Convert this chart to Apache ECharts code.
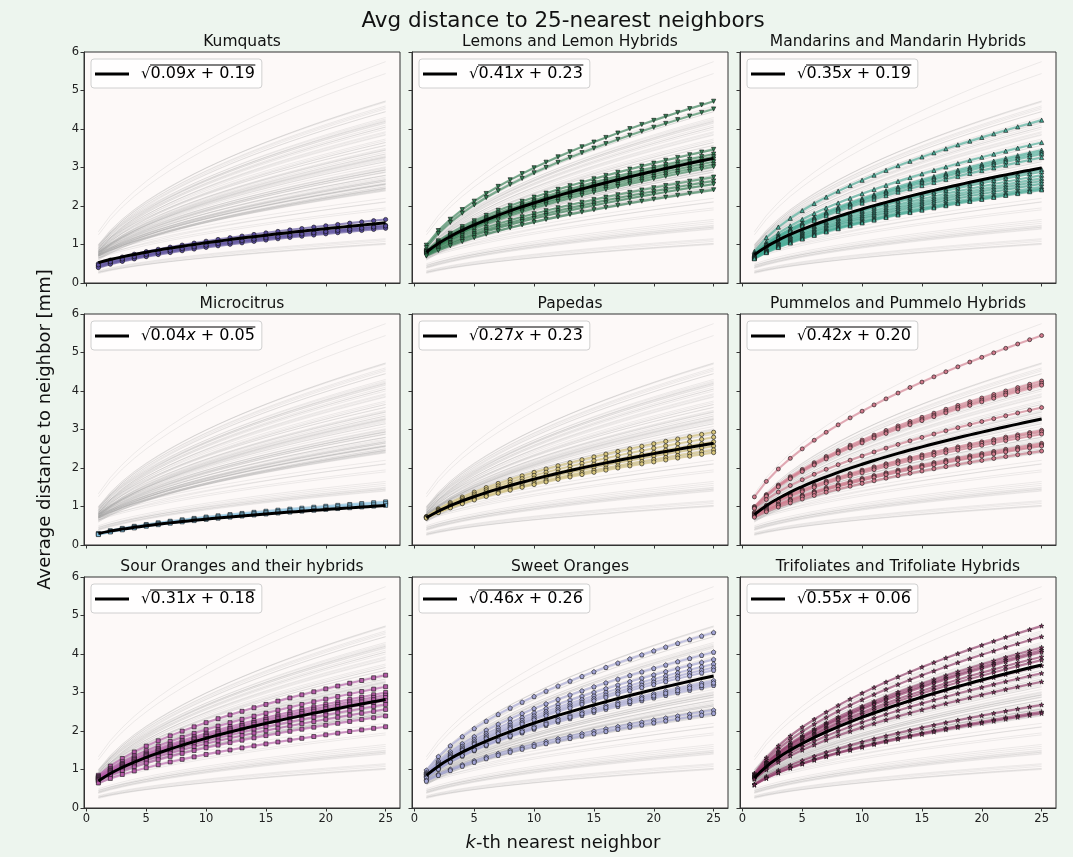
<!DOCTYPE html>
<html><head><meta charset="utf-8">
<script src="https://cdn.jsdelivr.net/npm/echarts@6/dist/echarts.min.js"></script>
<style>html,body{margin:0;padding:0;background:#edf5ee;}#c{width:1073px;height:857px;}</style>
</head><body><div id="c"></div>
<script>
// ---------- data ----------
const kValues = [1,2,3,4,5,6,7,8,9,10,11,12,13,14,15,16,17,18,19,20,21,22,23,24,25];
const xTickValues = [0,5,10,15,20,25];
const panelTitles = ['Kumquats','Lemons and Lemon Hybrids','Mandarins and Mandarin Hybrids','Microcitrus','Papedas','Pummelos and Pummelo Hybrids','Sour Oranges and their hybrids','Sweet Oranges','Trifoliates and Trifoliate Hybrids'];
const fitA = [0.09,0.41,0.35,0.04,0.27,0.42,0.31,0.46,0.55];
const fitB = [0.19,0.23,0.19,0.05,0.23,0.20,0.18,0.26,0.06];

// value at k=1 and k=25 of each sample curve (mm)
const kumquatStart = [0.50,0.45,0.42,0.40,0.47];
const kumquatEnd   = [1.65,1.50,1.45,1.42,1.48];
const lemonStart = [0.98,0.92,0.85,0.82,0.80,0.78,0.76,0.80,0.74,0.80,0.75,0.72,0.70];
const lemonEnd   = [4.72,4.52,3.47,3.35,3.28,3.22,3.15,3.08,3.02,2.75,2.65,2.57,2.42];
const mandarinStart = [0.82,0.78,0.75,0.75,0.72,0.72,0.70,0.70,0.68,0.68,0.66,0.66,0.65,0.64,0.63];
const mandarinEnd   = [4.23,3.65,3.45,3.40,3.35,3.26,2.95,2.89,2.80,2.72,2.65,2.58,2.50,2.45,2.42];
const microcitrusStart = [0.30,0.28,0.27];
const microcitrusEnd   = [1.12,1.08,1.03];
const papedaStart = [0.74,0.73,0.72,0.72,0.70,0.70];
const papedaEnd   = [2.93,2.80,2.68,2.57,2.47,2.40];
const pummeloStart = [1.25,1.00,0.98,0.96,0.95,0.85,0.82,0.80,0.78,0.76,0.74,0.72];
const pummeloEnd   = [5.44,4.26,4.20,4.15,3.57,2.98,2.94,2.88,2.64,2.60,2.57,2.44];
const sourStart = [0.85,0.82,0.80,0.78,0.77,0.75,0.74,0.72,0.70,0.65];
const sourEnd   = [3.45,3.15,3.00,2.93,2.87,2.79,2.69,2.56,2.39,2.11];
const sweetStart = [0.98,0.92,0.90,0.88,0.86,0.85,0.82,0.80,0.78,0.72,0.70];
const sweetEnd   = [4.56,4.05,3.86,3.74,3.65,3.58,3.31,3.19,3.25,2.54,2.46];
const trifoliateStart = [0.90,0.88,0.85,0.84,0.82,0.80,0.80,0.78,0.76,0.75,0.62,0.60,0.60];
const trifoliateEnd   = [4.73,4.45,4.17,4.10,4.05,3.93,3.84,3.70,3.50,3.28,2.68,2.50,2.46];
// other samples only seen in the grey background
const otherStart = [1.33,1.00,0.95,0.95,0.90,0.90,0.88,0.85,0.80,0.75,0.70,0.65,0.45,0.42,0.40,0.38,0.32,0.28,0.25];
const otherEnd   = [5.75,4.70,4.60,4.45,4.30,4.20,4.00,3.90,2.20,2.10,1.95,1.90,1.60,1.55,1.45,1.40,1.15,1.00,1.02];

// ---------- styles ----------
const groupStarts = [kumquatStart,lemonStart,mandarinStart,microcitrusStart,papedaStart,pummeloStart,sourStart,sweetStart,trifoliateStart];
const groupEnds = [kumquatEnd,lemonEnd,mandarinEnd,microcitrusEnd,papedaEnd,pummeloEnd,sourEnd,sweetEnd,trifoliateEnd];
const groupColors = ['#5a4c9f','#2f7f52','#45ad98','#7fc0e2','#d8c67c','#d27a8c','#b65aa8','#a3a5d6','#8f3566'];
const PENT = 'path://M0,-1L0.951,-0.309L0.588,0.809L-0.588,0.809L-0.951,-0.309Z';
const STAR = 'path://M0,-1L0.22,-0.31L0.95,-0.31L0.36,0.12L0.59,0.81L0,0.38L-0.59,0.81L-0.36,0.12L-0.95,-0.31L-0.22,-0.31Z';
const groupSymbols = ['circle','triangle','triangle','rect','circle','circle','rect',PENT,STAR];
const groupRotate = [0,180,0,0,0,0,0,0,0];
const groupSymbolSize = [4.2,4.2,4.2,4,4.2,4,4,4.5,4.6];
const FONT = 'DejaVu Sans';

const colLeft = [84,412,740], rowTop = [52,314,577], W = 316, H = 231;

function curve(y1, y25) {
  const a = (y25*y25 - y1*y1)/24, b = y1*y1 - a;
  return kValues.map(k => [k, +Math.sqrt(a*k + b).toFixed(3)]);
}

const greyData = [];
function addGrey(s, e){ for (let i=0;i<s.length;i++){ curve(s[i],e[i]).forEach(p=>greyData.push(p)); greyData.push(['-','-']); } }
for (let g=0; g<9; g++) addGrey(groupStarts[g], groupEnds[g]);
addGrey(otherStart, otherEnd);

// text measuring for the radical's overline
const mctx = document.createElement('canvas').getContext('2d');
function tw(t, style){ mctx.font = (style||'') + ' 16px "DejaVu Sans"'; return mctx.measureText(t).width; }
function twR(t){ mctx.font = '15px "DejaVu Sans"'; return mctx.measureText(t).width; }

const grid=[], xAxis=[], yAxis=[], series=[], legend=[], graphic=[];
const title=[{text:'Avg distance to 25-nearest neighbors', left:563, top:10, textAlign:'center', padding:0,
  textStyle:{fontFamily:FONT,fontSize:21.5,fontWeight:'normal',color:'#111'}},
  {text:'{i|k}-th nearest neighbor', left:563, top:834, textAlign:'center', padding:0,
  textStyle:{fontFamily:FONT,fontSize:18,fontWeight:'normal',color:'#111',
    rich:{i:{fontFamily:FONT,fontSize:18,fontStyle:'italic',color:'#111'}}}}];

for (let p=0;p<9;p++){
  const r=Math.floor(p/3), c=p%3;
  grid.push({left:colLeft[c], top:rowTop[r], width:W, height:H, show:true,
    backgroundColor:'#fdf9f8', borderColor:'#333', borderWidth:1, containLabel:false});
  xAxis.push({type:'value', gridIndex:p, min:-0.2, max:26.2,
    axisLine:{show:true,onZero:false,lineStyle:{color:'#333',width:1}},
    axisTick:{show:true,length:3.5,customValues:xTickValues,lineStyle:{color:'#333'}},
    axisLabel:{show:r===2,customValues:xTickValues,fontFamily:FONT,fontSize:11.5,color:'#222',margin:5},
    splitLine:{show:false}});
  const ya={type:'value', gridIndex:p, min:0, max:6, interval:1,
    axisLine:{show:true,onZero:false,lineStyle:{color:'#333',width:1}},
    axisTick:{show:true,length:3.5,lineStyle:{color:'#333'}},
    axisLabel:{show:c===0,fontFamily:FONT,fontSize:11.5,color:'#222',margin:5},
    splitLine:{show:false}};
  if (p===3){ Object.assign(ya,{name:'Average distance to neighbor [mm]',nameLocation:'middle',nameGap:30,nameRotate:90,
    nameTextStyle:{fontFamily:FONT,fontSize:18,color:'#111'}}); }
  yAxis.push(ya);
  title.push({text:panelTitles[p], left:colLeft[c]+W/2, top:rowTop[r]-18, textAlign:'center', padding:0,
    textStyle:{fontFamily:FONT,fontSize:15.5,fontWeight:'normal',color:'#111'}});

  series.push({type:'line', xAxisIndex:p, yAxisIndex:p, data:greyData, symbol:'none', silent:true,
    connectNulls:false, lineStyle:{color:'rgba(150,150,150,0.16)',width:1}, z:1});
  const s=groupStarts[p], e=groupEnds[p];
  for (let i=0;i<s.length;i++){
    series.push({type:'line', xAxisIndex:p, yAxisIndex:p, data:curve(s[i],e[i]), silent:true,
      symbol:groupSymbols[p], symbolRotate:groupRotate[p], symbolSize:groupSymbolSize[p], showAllSymbol:true,
      itemStyle:{color:groupColors[p],borderColor:'#111',borderWidth:0.6},
      lineStyle:{color:groupColors[p],width:2.2,opacity:0.6}, z:2});
  }
  const name='fit'+p;
  series.push({type:'line', name:name, xAxisIndex:p, yAxisIndex:p, silent:true,
    data:kValues.map(k=>[k, Math.sqrt(fitA[p]*k+fitB[p])]), symbol:'none', smooth:true,
    itemStyle:{color:'#000'}, lineStyle:{color:'#000',width:3}, z:3});
  const aTxt=fitA[p].toFixed(2), bTxt=fitB[p].toFixed(2);
  const lgLeft=colLeft[c]+7, lgTop=rowTop[r]+7;
  legend.push({data:[name], left:lgLeft, top:lgTop, orient:'horizontal',
    icon:'rect', itemWidth:34, itemHeight:3, selectedMode:false,
    backgroundColor:'rgba(255,255,255,0.85)', borderColor:'#d0d0d0', borderWidth:1, borderRadius:3,
    padding:[7,7,6,4],
    formatter:()=>'{r|\u221A}{n|'+aTxt+'}{i|x}{n| + '+bTxt+'}',
    textStyle:{fontFamily:FONT,fontSize:16,color:'#000',
      rich:{r:{fontFamily:FONT,fontSize:15,color:'#000',padding:[0,0,0,7]},
            n:{fontFamily:FONT,fontSize:16,color:'#000'},
            i:{fontFamily:FONT,fontSize:16,fontStyle:'italic',color:'#000'}}}});
  // overline of the square root in the legend label
  const x0 = lgLeft + 4 + 34 + 5 + 7 + twR('\u221A') - 0.5;
  const wRad = tw(aTxt) + tw('x','italic') + tw(' + '+bTxt);
  graphic.push({type:'line', silent:true, z:100,
    shape:{x1:x0, y1:lgTop+6, x2:x0+wRad+1, y2:lgTop+6}, style:{stroke:'#000', lineWidth:1}});
}

const chart=echarts.init(document.getElementById('c'),null,{renderer:'canvas'});
chart.setOption({backgroundColor:'#edf5ee', animation:false, title, grid, xAxis, yAxis, legend, series, graphic});
</script></body></html>
